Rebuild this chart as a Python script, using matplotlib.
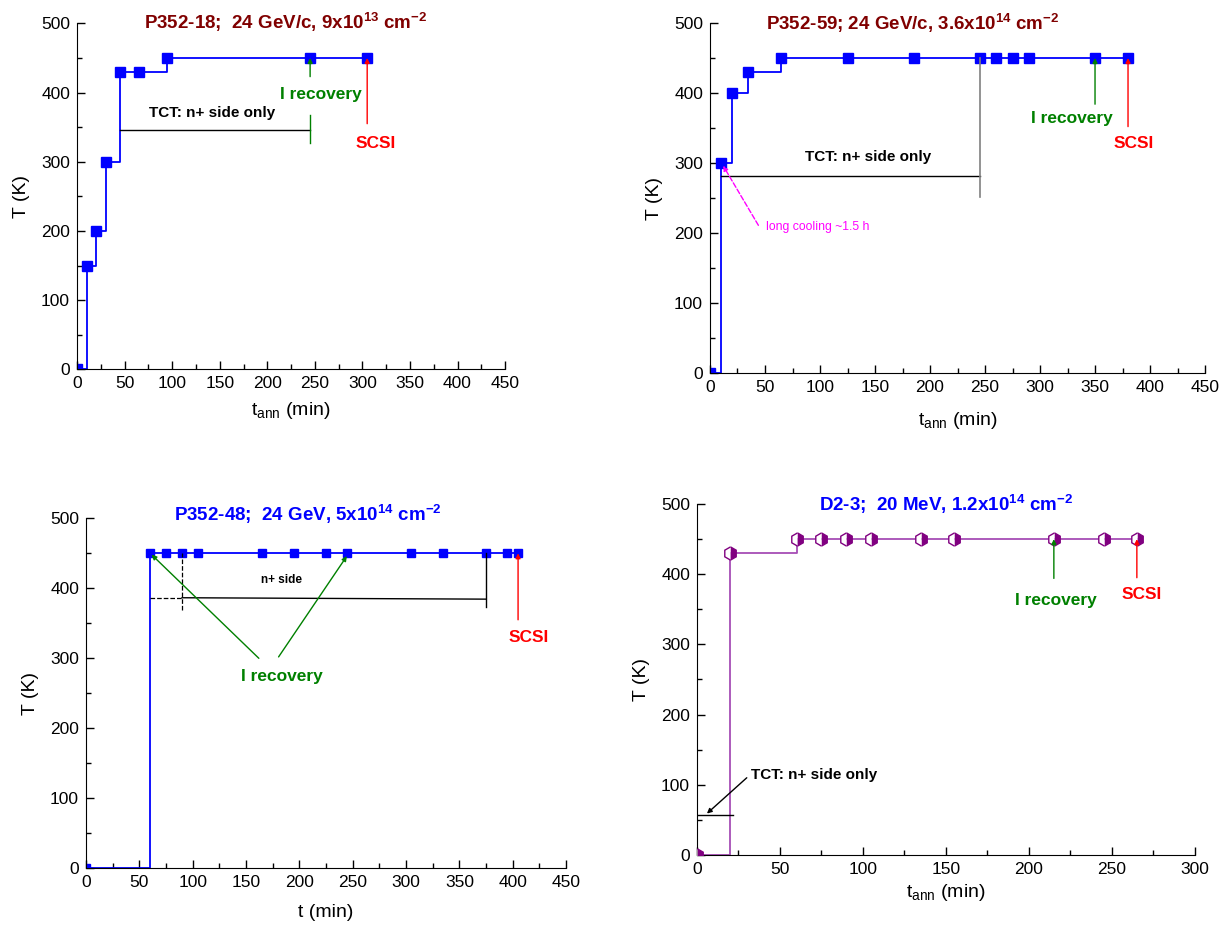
import numpy as np
import matplotlib
matplotlib.use("Agg")
import matplotlib.pyplot as plt
from matplotlib.ticker import MultipleLocator

plt.rcParams['font.family'] = ['Liberation Sans', 'DejaVu Sans']
plt.rcParams['mathtext.fontset'] = 'custom'
plt.rcParams['mathtext.rm'] = 'Liberation Sans'
plt.rcParams['mathtext.it'] = 'Liberation Sans:italic'
plt.rcParams['mathtext.bf'] = 'Liberation Sans:bold'
plt.rcParams['mathtext.default'] = 'regular'

# annealing steps: time (min) and temperature (K)
t_18 = [0, 10, 20, 30, 45, 65, 95, 245, 305]
T_18 = [0, 150, 200, 300, 430, 430, 450, 450, 450]

t_59 = [0, 10, 20, 35, 65, 125, 185, 245, 260, 275, 290, 350, 380]
T_59 = [0, 300, 400, 430, 450, 450, 450, 450, 450, 450, 450, 450, 450]

t_48 = [0, 60, 75, 90, 105, 165, 195, 225, 245, 305, 335, 375, 395, 405]
T_48 = [0, 450, 450, 450, 450, 450, 450, 450, 450, 450, 450, 450, 450, 450]

t_d23 = [0, 20, 60, 75, 90, 105, 135, 155, 215, 245, 265]
T_d23 = [0, 430, 450, 450, 450, 450, 450, 450, 450, 450, 450]

BLUE = '#0000FF'
DARKRED = '#800000'
GREEN = '#008000'
RED = '#FF0000'
MAGENTA = '#FF00FF'
PURPLE = '#800080'

TITLE_FS = 13.5
NOTE_FS = 12.5
TCT_FS = 11

fig = plt.figure(figsize=(12.29, 9.27), dpi=100)

ax1 = fig.add_axes([0.0627, 0.6016, 0.3483, 0.3732])
ax2 = fig.add_axes([0.5777, 0.5976, 0.4028, 0.3776])
ax3 = fig.add_axes([0.0700, 0.0633, 0.3906, 0.3776])
ax4 = fig.add_axes([0.5671, 0.0777, 0.4052, 0.3786])


def style(ax, xmax, xmaj, xmin_, xlabel, xpad=4):
    ax.set_xlim(0, xmax)
    ax.set_ylim(0, 500)
    ax.spines['top'].set_visible(False)
    ax.spines['right'].set_visible(False)
    ax.xaxis.set_major_locator(MultipleLocator(xmaj))
    ax.xaxis.set_minor_locator(MultipleLocator(xmin_))
    ax.yaxis.set_major_locator(MultipleLocator(100))
    ax.yaxis.set_minor_locator(MultipleLocator(50))
    ax.tick_params(which='major', direction='in', length=6, width=1, labelsize=12.5, pad=5)
    ax.tick_params(which='minor', direction='in', length=3.5, width=1)
    ax.set_xlabel(xlabel, fontsize=14, labelpad=xpad)
    ax.set_ylabel('T (K)', fontsize=14, labelpad=8)


def arrow(ax, x, y0, y1, color, lw=1.0, ls='-'):
    ax.annotate('', xy=(x, y1), xytext=(x, y0),
                arrowprops=dict(arrowstyle='-|>', color=color, lw=lw, ls=ls,
                                mutation_scale=7, shrinkA=0, shrinkB=0))


# P352-18
ax1.plot(t_18, T_18, drawstyle='steps-post', color=BLUE, lw=1.3,
         marker='s', ms=6.5, mfc=BLUE, mec=BLUE)
style(ax1, 450, 50, 25, r't$_{ann}$ (min)', xpad=6)
ax1.text(219, 501, r'P352-18;  24 GeV/c, 9x10$^{\mathbf{13}}$ cm$^{\mathbf{-2}}$',
         color=DARKRED, fontsize=TITLE_FS, fontweight='bold', ha='center', va='center', clip_on=False)
ax1.text(142, 370, 'TCT: n+ side only', fontsize=TCT_FS, fontweight='bold', ha='center', va='center')
ax1.plot([45, 245], [346, 346], color='black', lw=1)
ax1.plot([245, 245], [327, 368], color=GREEN, lw=1)
arrow(ax1, 245, 423, 450, GREEN)
ax1.text(256, 397, 'I recovery', color=GREEN, fontsize=NOTE_FS, fontweight='bold', ha='center', va='center')
arrow(ax1, 305, 355, 450, RED)
ax1.text(314, 327, 'SCSI', color=RED, fontsize=NOTE_FS, fontweight='bold', ha='center', va='center')

# P352-59
ax2.plot(t_59, T_59, drawstyle='steps-post', color=BLUE, lw=1.3,
         marker='s', ms=6.5, mfc=BLUE, mec=BLUE)
style(ax2, 450, 50, 25, r't$_{ann}$ (min)', xpad=11)
ax2.text(184, 499, r'P352-59; 24 GeV/c, 3.6x10$^{\mathbf{14}}$ cm$^{\mathbf{-2}}$',
         color=DARKRED, fontsize=TITLE_FS, fontweight='bold', ha='center', va='center', clip_on=False)
ax2.text(144, 309, 'TCT: n+ side only', fontsize=TCT_FS, fontweight='bold', ha='center', va='center')
ax2.plot([10, 245], [282, 282], color='black', lw=1)
ax2.plot([245, 245], [252, 450], color='gray', lw=1.2)
ax2.annotate('', xy=(12, 296), xytext=(44, 211),
             arrowprops=dict(arrowstyle='-|>', color=MAGENTA, lw=1, ls='--',
                             mutation_scale=7, shrinkA=0, shrinkB=0))
ax2.text(51, 208, 'long cooling ~1.5 h', color=MAGENTA, fontsize=8.8, ha='left', va='center')
arrow(ax2, 350, 384, 450, GREEN)
ax2.text(329, 364, 'I recovery', color=GREEN, fontsize=NOTE_FS, fontweight='bold', ha='center', va='center')
arrow(ax2, 380, 352, 450, RED)
ax2.text(385, 328, 'SCSI', color=RED, fontsize=NOTE_FS, fontweight='bold', ha='center', va='center')

# P352-48
ax3.plot(t_48, T_48, drawstyle='steps-post', color=BLUE, lw=1.3,
         marker='s', ms=5.5, mfc=BLUE, mec=BLUE)
style(ax3, 450, 50, 25, 't (min)', xpad=10)
ax3.text(208, 505, r'P352-48;  24 GeV, 5x10$^{\mathbf{14}}$ cm$^{\mathbf{-2}}$',
         color=BLUE, fontsize=TITLE_FS, fontweight='bold', ha='center', va='center', clip_on=False)
ax3.text(183, 412, 'n+ side', fontsize=8.5, fontweight='bold', ha='center', va='center')
ax3.plot([60, 90], [386.5, 386.5], color='black', lw=0.9, ls='--')
ax3.plot([90, 90], [369, 450], color='black', lw=0.9, ls='--')
ax3.plot([90, 375], [386.5, 384.5], color='black', lw=1)
ax3.plot([375, 375], [373, 450], color='black', lw=1)
for (hx, hy), (tx, ty) in [((61.5, 448), (162, 300)), ((244.5, 446), (180.5, 302))]:
    ax3.annotate('', xy=(hx, hy), xytext=(tx, ty),
                 arrowprops=dict(arrowstyle='-|>', color=GREEN, lw=1,
                                 mutation_scale=7, shrinkA=0, shrinkB=0))
ax3.text(184, 274, 'I recovery', color=GREEN, fontsize=NOTE_FS, fontweight='bold', ha='center', va='center')
arrow(ax3, 405, 355, 450, RED)
ax3.text(415, 329, 'SCSI', color=RED, fontsize=NOTE_FS, fontweight='bold', ha='center', va='center')

# D2-3
ax4.plot(t_d23, T_d23, drawstyle='steps-post', color='#A64DB5', lw=1.3, zorder=2)
ax4.plot(t_d23, T_d23, ls='none', marker='h', ms=9.5, fillstyle='right',
         mfc=PURPLE, mfcalt='white', mec=PURPLE, mew=1, zorder=3)
style(ax4, 300, 50, 25, r't$_{ann}$ (min)')
ax4.text(150, 499, r'D2-3;  20 MeV, 1.2x10$^{\mathbf{14}}$ cm$^{\mathbf{-2}}$',
         color=BLUE, fontsize=TITLE_FS, fontweight='bold', ha='center', va='center', clip_on=False)
arrow(ax4, 215, 394, 450, GREEN)
ax4.text(216.5, 363, 'I recovery', color=GREEN, fontsize=NOTE_FS, fontweight='bold', ha='center', va='center')
arrow(ax4, 265, 395, 450, RED)
ax4.text(268, 371, 'SCSI', color=RED, fontsize=NOTE_FS, fontweight='bold', ha='center', va='center')
ax4.plot([0, 21.5], [57, 57], color='black', lw=1)
ax4.annotate('', xy=(6, 59), xytext=(30, 110),
             arrowprops=dict(arrowstyle='-|>', color='black', lw=1,
                             mutation_scale=7, shrinkA=0, shrinkB=0))
ax4.text(32.5, 114, 'TCT: n+ side only', fontsize=TCT_FS, fontweight='bold', ha='left', va='center')

fig.savefig('out.png', dpi=100)
